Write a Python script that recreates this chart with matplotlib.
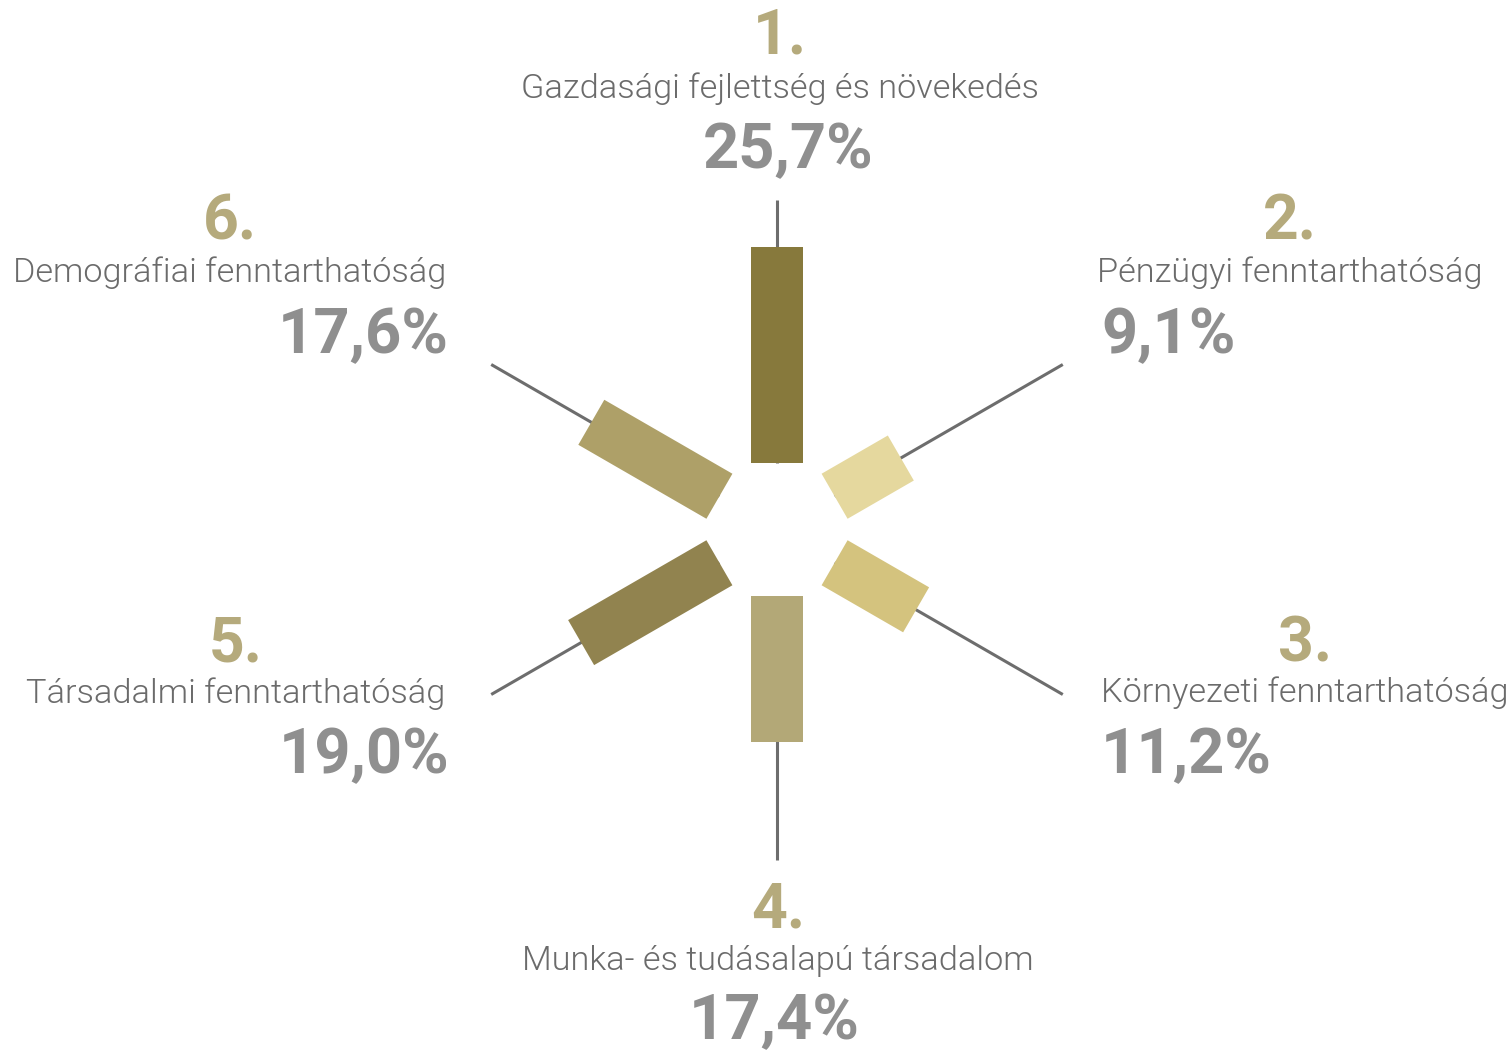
import matplotlib
matplotlib.use("Agg")
import matplotlib.pyplot as plt
from matplotlib.patches import Rectangle
from matplotlib.transforms import Affine2D

# Data
ranks = ["1.", "2.", "3.", "4.", "5.", "6."]
labels = [
    "Gazdasági fejlettség és növekedés",
    "Pénzügyi fenntarthatóság",
    "Környezeti fenntarthatóság",
    "Munka- és tudásalapú társadalom",
    "Társadalmi fenntarthatóság",
    "Demográfiai fenntarthatóság",
]
values = [25.7, 9.1, 11.2, 17.4, 19.0, 17.6]
value_texts = ["25,7%", "9,1%", "11,2%", "17,4%", "19,0%", "17,6%"]
angles = [90, 30, -30, -90, -150, 150]
bar_colors = ["#87793c", "#e5d89e", "#d4c37e", "#b3a877", "#91834f", "#aea068"]

# Layout (pixel space, y measured from top)
W, H = 1511, 1050
cx, cy = 777, H - 529.5
r_inner = 66.5
r_line = 330
px_per_pct = 216 / 25.7
bar_w = 52

# text anchors: (x for rank+label, label align, x for pct, pct align, rank baseline, label baseline, pct baseline)
text_layout = [
    (780, "center", 788, "center", 53, 98, 168),
    (1290, "center", 1101, "left", 240, 282, 353),
    (1305, "center", 1101, "left", 662, 702, 773),
    (778, "center", 774, "center", 928, 970, 1039),
    (236, "center", 449, "right", 662, 703, 773),
    (230, "center", 449, "right", 240, 282, 353),
]

gold = "#b5aa7c"
pct_gray = "#8f8f8f"
label_gray = "#6b6b6b"
line_gray = "#6d6d6d"

fig = plt.figure(figsize=(W / 100, H / 100), dpi=100)
ax = fig.add_axes([0, 0, 1, 1])
ax.set_xlim(0, W)
ax.set_ylim(0, H)
ax.axis("off")

for val, ang, col in zip(values, angles, bar_colors):
    tr = Affine2D().rotate_deg(ang).translate(cx, cy) + ax.transData
    ax.plot([r_inner, r_line], [0, 0], color=line_gray, lw=2.2,
            solid_capstyle="butt", transform=tr, zorder=1)
    ax.add_patch(Rectangle((r_inner, -bar_w / 2), val * px_per_pct, bar_w,
                           facecolor=col, edgecolor="none", transform=tr, zorder=2))

for rk, lab, vt, lay in zip(ranks, labels, value_texts, text_layout):
    x, _, px, pha, yr, yl, yp = lay
    ax.text(x, H - yr, rk, ha="center", va="baseline", fontsize=45,
            fontweight="bold", family="Roboto", color=gold)
    ax.text(x, H - yl, lab, ha="center", va="baseline", fontsize=24.7,
            fontweight=300, family="Roboto", color=label_gray)
    ax.text(px, H - yp, vt, ha=pha, va="baseline", fontsize=45.5,
            fontweight="bold", family="Roboto", color=pct_gray)

fig.savefig("out.png", dpi=100, facecolor="white")
